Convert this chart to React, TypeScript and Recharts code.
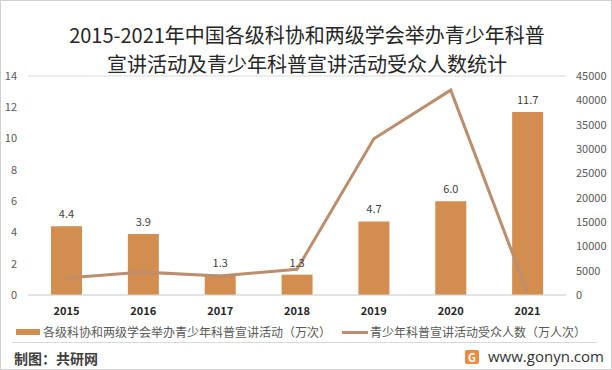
import React from "react";
import {
  ComposedChart,
  Bar,
  Line,
  XAxis,
  YAxis,
  CartesianGrid,
  Legend,
  LabelList,
} from "recharts";

const years = ["2015", "2016", "2017", "2018", "2019", "2020", "2021"];
const activities = [4.4, 3.9, 1.3, 1.3, 4.7, 6.0, 11.7];
const audience = [3500, 4700, 3900, 5300, 32100, 42100, 400];
const leftTicks = [0, 2, 4, 6, 8, 10, 12, 14];
const rightTicks = [0, 5000, 10000, 15000, 20000, 25000, 30000, 35000, 40000, 45000];

const barName = "各级科协和两级学会举办青少年科普宣讲活动（万次）";
const lineName = "青少年科普宣讲活动受众人数（万人次）";

const BAR_COLOR = "#D38D4F";
const LINE_COLOR = "#BC8E6E";
const FONT = "'Noto Sans CJK SC', 'Noto Sans', sans-serif";

const data = years.map((y, i) => ({
  year: y,
  activities: activities[i],
  audience: audience[i],
}));

const renderLegend = () => (
  <div style={{ position: "relative", height: 16, fontSize: 12, color: "#595959", fontFamily: FONT }}>
    <span style={{ position: "absolute", left: 16, top: 5, width: 24, height: 6, background: BAR_COLOR }} />
    <span style={{ position: "absolute", left: 43, top: 0, lineHeight: "16px", whiteSpace: "nowrap" }}>{barName}</span>
    <span style={{ position: "absolute", left: 342, top: 7, width: 26, height: 3, background: LINE_COLOR }} />
    <span style={{ position: "absolute", left: 370, top: 0, lineHeight: "16px", whiteSpace: "nowrap" }}>{lineName}</span>
  </div>
);

export default function App() {
  return (
    <div
      style={{
        position: "absolute",
        left: 0,
        top: 0,
        width: 612,
        height: 370,
        background: "#fff",
        fontFamily: FONT,
        boxSizing: "border-box",
        border: "1px solid #d0d0d0",
        overflow: "hidden",
      }}
    >
      <div
        style={{
          position: "absolute",
          left: 0,
          top: 19,
          width: 612,
          textAlign: "center",
          fontSize: 20,
          lineHeight: "29px",
          color: "#262626",
        }}
      >
        2015-2021年中国各级科协和两级学会举办青少年科普
        <br />
        宣讲活动及青少年科普宣讲活动受众人数统计
      </div>
      <div style={{ position: "absolute", left: -1, top: -1 }}>
        <ComposedChart
          width={612}
          height={370}
          data={data}
          margin={{ top: 76, right: 0, left: 0, bottom: 29 }}
          barCategoryGap={23}
        >
          <CartesianGrid vertical={false} stroke="#d9d9d9" />
          <XAxis
            dataKey="year"
            axisLine={{ stroke: "#d9d9d9" }}
            tickLine={false}
            tickMargin={6}
            tick={{ fontSize: 11, fill: "#262626", fontWeight: 700, fontFamily: FONT }}
            height={30}
          />
          <YAxis
            yAxisId="left"
            orientation="left"
            width={28}
            domain={[0, 14]}
            ticks={leftTicks}
            axisLine={false}
            tickLine={false}
            tickMargin={5}
            tick={{ fontSize: 11, fill: "#595959", fontFamily: FONT }}
          />
          <YAxis
            yAxisId="right"
            orientation="right"
            width={46}
            domain={[0, 45000]}
            ticks={rightTicks}
            axisLine={false}
            tickLine={false}
            tickMargin={4}
            tick={{ fontSize: 11, fill: "#595959", fontFamily: FONT }}
          />
          <Legend
            content={renderLegend}
            wrapperStyle={{ position: "absolute", left: 0, top: 324, width: 612, height: 16 }}
          />
          <Bar
            yAxisId="left"
            dataKey="activities"
            name={barName}
            fill={BAR_COLOR}
            isAnimationActive={false}
          >
            <LabelList
              dataKey="activities"
              position="top"
              offset={8}
              formatter={(v: any) => Number(v).toFixed(1)}
              style={{ fontSize: 11, fill: "#404040", fontFamily: FONT }}
            />
          </Bar>
          <Line
            yAxisId="right"
            dataKey="audience"
            name={lineName}
            stroke={LINE_COLOR}
            strokeWidth={3}
            dot={false}
            isAnimationActive={false}
          />
        </ComposedChart>
      </div>
      <div style={{ position: "absolute", left: 11, right: 14, top: 341, height: 1, background: "#d9d9d9" }} />
      <div style={{ position: "absolute", left: 13, top: 347, fontSize: 14, fontWeight: 700, color: "#404040" }}>
        制图：共研网
      </div>
      <div style={{ position: "absolute", left: 464, top: 349, width: 14, height: 14, background: "#F08A3C", borderRadius: 2, color: "#fff", fontSize: 11, fontWeight: 700, textAlign: "center", lineHeight: "14px" }}>
        G
      </div>
      <div style={{ position: "absolute", left: 487, top: 345, fontSize: 15, color: "#333", fontFamily: "'Open Sans', sans-serif" }}>
        www.gonyn.com
      </div>
    </div>
  );
}
